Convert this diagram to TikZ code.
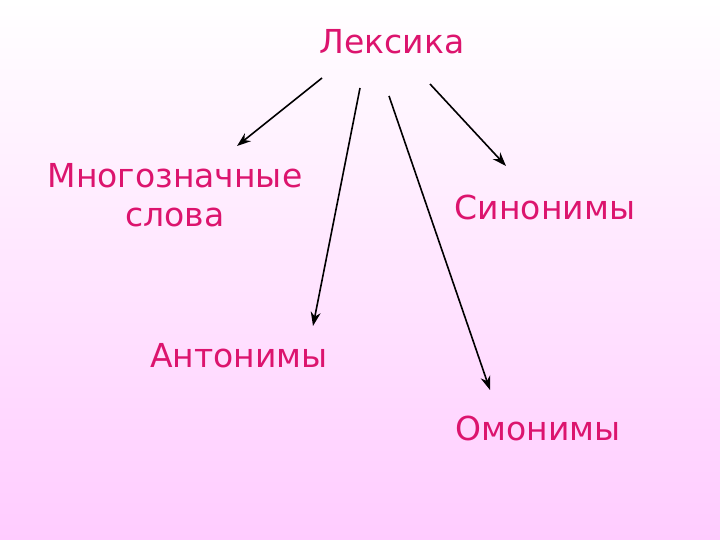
\documentclass[tikz,border=0pt]{standalone}
\usepackage{fontspec}
\setmainfont{DejaVu Sans}
\usetikzlibrary{arrows.meta}
\definecolor{txtpink}{RGB}{220,20,110}
\definecolor{bgpink}{RGB}{255,204,255}
\tikzset{
  lbl/.style={text=txtpink, font=\fontsize{33}{39}\selectfont, inner sep=0pt, align=center},
  conn/.style={draw=black, line width=1.6pt, -{Stealth[length=14pt,width=10pt]}}
}
\begin{document}
\begin{tikzpicture}[x=1pt,y=-1pt]
\shade[top color=white, bottom color=bgpink] (0,0) rectangle (720,540);
\useasboundingbox (0,0) rectangle (720,540);
\node[lbl] (lex) at (392,42) {Лексика};
\node[lbl] (mnog) at (175,195) {Многозначные\\слова};
\node[lbl] (sin) at (545,207) {Синонимы};
\node[lbl] (ant) at (239,356) {Антонимы};
\node[lbl] (omo) at (538,428) {Омонимы};
\coordinate (s1) at (322,78);
\coordinate (e1) at (237,146);
\coordinate (s2) at (360,88);
\coordinate (e2) at (313,326);
\coordinate (s3) at (389,96);
\coordinate (e3) at (490,390);
\coordinate (s4) at (430,84);
\coordinate (e4) at (506,166);
\draw[conn] (s1) -- (e1);
\draw[conn] (s2) -- (e2);
\draw[conn] (s3) -- (e3);
\draw[conn] (s4) -- (e4);
\end{tikzpicture}
\end{document}
